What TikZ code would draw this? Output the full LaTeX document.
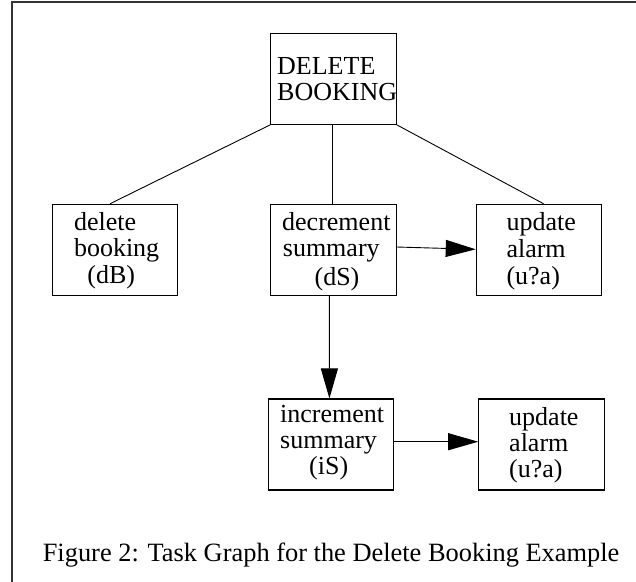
\documentclass[tikz,border=0pt]{standalone}
\usepackage{fontspec}
\setmainfont{Liberation Serif}
\usetikzlibrary{arrows.meta}
\begin{document}
\begin{tikzpicture}[x=1pt,y=-1pt,
  taskbox/.style={draw=black, line width=1.1pt, minimum width=125.5pt, minimum height=91pt, inner sep=0pt},
  txt/.style={anchor=base west, inner sep=0pt, font=\fontsize{26}{26}\selectfont},
  edge/.style={draw=black, line width=0.9pt},
  arr/.style={edge, -{Triangle[length=30pt,width=17pt]}}]
\useasboundingbox (0,0) rectangle (636,581);
% frame
\coordinate (fbl) at (12,585);
\coordinate (ftl) at (12,2);
\coordinate (ftr) at (640,2);
\draw[line width=1.4pt, black!80] (fbl) -- (ftl) -- (ftr);
% boxes
\node[taskbox] (root) at (333.5,78.8) {};
\node[taskbox] (dB) at (115,249.8) {};
\node[taskbox] (dS) at (333.5,249.8) {};
\node[taskbox] (ua1) at (539,249.8) {};
\node[taskbox] (iS) at (330.8,444.5) {};
\node[taskbox] (ua2) at (541.5,444.5) {};
% texts
\node[txt] (t1) at (277,74) {DELETE};
\node[txt] (t2) at (277,100.7) {BOOKING};
\node[txt] (t3) at (73.8,230) {delete};
\node[txt] (t4) at (73.8,256.7) {booking};
\node[txt] (t5) at (87.2,283.3) {(dB)};
\node[txt] (t6) at (282,230) {decrement};
\node[txt] (t7) at (282.7,256.7) {summary};
\node[txt] (t8) at (314.4,285) {(dS)};
\node[txt] (t9) at (506.3,230) {update};
\node[txt] (t10) at (506.3,257) {alarm};
\node[txt] (t11) at (506.3,284) {(u?a)};
\node[txt] (t12) at (280,422.7) {increment};
\node[txt] (t13) at (280,448.5) {summary};
\node[txt] (t14) at (309,474.5) {(iS)};
\node[txt] (t15) at (509,425) {update};
\node[txt] (t16) at (509,451.5) {alarm};
\node[txt] (t17) at (509,477) {(u?a)};
\node[txt, font=\fontsize{26.4}{26.4}\selectfont] (cap) at (42.6,561.7) {Figure 2: Task Graph for the Delete Booking Example};
% connectors
\draw[edge] (root.south west) -- ([xshift=-5pt]dB.north);
\draw[edge] ([xshift=-0.9pt]root.south) -- ([xshift=-0.9pt]dS.north);
\draw[edge] (root.south east) -- ([xshift=4.6pt]ua1.north);
\draw[arr] ([yshift=2.8pt]dS.east) -- ([yshift=0.5pt]ua1.west);
\draw[arr] ([xshift=-4.1pt]dS.south) -- ([xshift=-1.4pt]iS.north);
\draw[arr] ([yshift=2.8pt]iS.east) -- ([yshift=2.8pt]ua2.west);
\end{tikzpicture}
\end{document}
